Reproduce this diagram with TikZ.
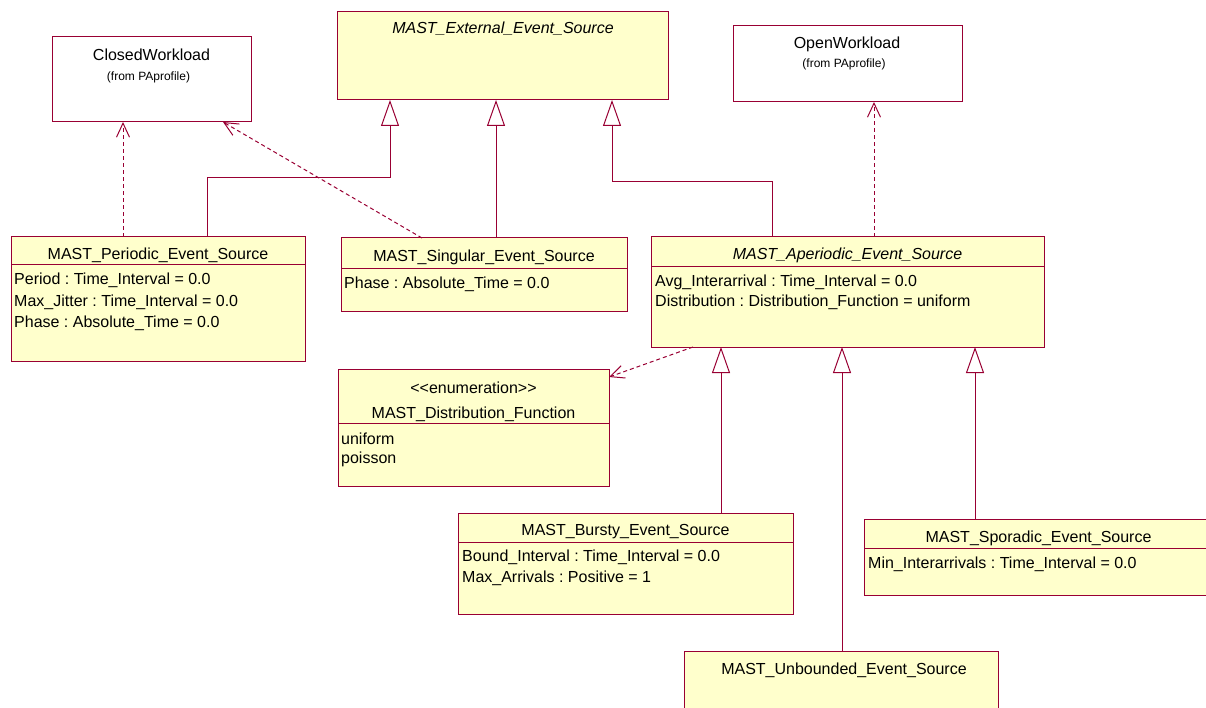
\documentclass[tikz,border=0pt]{standalone}
\usepackage{fontspec}
\setmainfont{Liberation Sans}
\usetikzlibrary{arrows.meta,calc}
\frenchspacing
\definecolor{umlline}{RGB}{153,0,51}
\definecolor{umlfill}{RGB}{255,255,204}
\tikzset{
  cls/.style={draw=umlline, fill=umlfill, line width=1pt, inner sep=0pt, outer sep=0pt, anchor=north west},
  ext/.style={cls, fill=white},
  sep/.style={draw=umlline, line width=1pt},
  ttl/.style={inner sep=0pt, anchor=base, font=\fontsize{16}{19}\selectfont},
  att/.style={inner sep=0pt, anchor=base west, font=\fontsize{16}{19}\selectfont},
  sml/.style={inner sep=0pt, anchor=base, font=\fontsize{12}{14}\selectfont},
  gen/.style={draw=umlline, line width=1pt, -{Triangle[length=26pt,width=18pt,fill=white]}},
  dep/.style={draw=umlline, line width=1pt, dash pattern=on 4pt off 3pt, -{Straight Barb[length=14pt,width=13pt]}},
}
\begin{document}
\begin{tikzpicture}[x=1pt,y=-1pt]
\useasboundingbox (0,0) rectangle (1206,708);
\clip (0,0) rectangle (1206,708);

% packages imported from PAprofile
\node[ext, minimum width=199pt, minimum height=85pt] (closed) at (52,37) {};
\node[ttl] (closedT) at (151.5,61) {ClosedWorkload};
\node[sml] (closedF) at (148.5,81) {(from PAprofile)};

\node[ext, minimum width=229pt, minimum height=76pt] (open) at (733,26) {};
\node[ttl] (openT) at (847,49) {OpenWorkload};
\node[sml] (openF) at (844,67.5) {(from PAprofile)};

% abstract root
\node[cls, minimum width=331pt, minimum height=88pt] (external) at (337,12) {};
\node[ttl, font=\fontsize{16}{19}\selectfont\itshape] (externalT) at (503,34) {MAST\_External\_Event\_Source};

% periodic
\node[cls, minimum width=294pt, minimum height=124pt] (periodic) at (11,237) {};
\draw[sep] ([yshift=-28pt]periodic.north west) -- ([yshift=-28pt]periodic.north east);
\node[ttl] (periodicT) at (158,260) {MAST\_Periodic\_Event\_Source};
\node[att] (periodicA1) at (14,284.5) {Period : Time\_Interval = 0.0};
\node[att] (periodicA2) at (14,306) {Max\_Jitter : Time\_Interval = 0.0};
\node[att] (periodicA3) at (14,327.5) {Phase : Absolute\_Time = 0.0};

% singular
\node[cls, minimum width=286pt, minimum height=73pt] (singular) at (341,238) {};
\draw[sep] ([yshift=-31pt]singular.north west) -- ([yshift=-31pt]singular.north east);
\node[ttl] (singularT) at (484,262) {MAST\_Singular\_Event\_Source};
\node[att] (singularA1) at (344,288) {Phase : Absolute\_Time = 0.0};

% aperiodic
\node[cls, minimum width=393pt, minimum height=110pt] (aperiodic) at (651,237) {};
\draw[sep] ([yshift=-30pt]aperiodic.north west) -- ([yshift=-30pt]aperiodic.north east);
\node[ttl, font=\fontsize{16}{19}\selectfont\itshape] (aperiodicT) at (847.5,260) {MAST\_Aperiodic\_Event\_Source};
\node[att] (aperiodicA1) at (655,287) {Avg\_Interarrival : Time\_Interval = 0.0};
\node[att] (aperiodicA2) at (655,306.5) {Distribution : Distribution\_Function = uniform};

% enumeration
\node[cls, minimum width=271pt, minimum height=117pt] (enum) at (338,369) {};
\draw[sep] ([yshift=-54pt]enum.north west) -- ([yshift=-54pt]enum.north east);
\node[ttl] (enumS) at (473.5,393) {<{}<enumeration>{}>};
\node[ttl] (enumT) at (473.5,418) {MAST\_Distribution\_Function};
\node[att] (enumA1) at (341,444.5) {uniform};
\node[att] (enumA2) at (341,463) {poisson};

% bursty
\node[cls, minimum width=335pt, minimum height=101pt] (bursty) at (458,513) {};
\draw[sep] ([yshift=-29pt]bursty.north west) -- ([yshift=-29pt]bursty.north east);
\node[ttl] (burstyT) at (625.5,535) {MAST\_Bursty\_Event\_Source};
\node[att] (burstyA1) at (462,561) {Bound\_Interval : Time\_Interval = 0.0};
\node[att] (burstyA2) at (462,582.5) {Max\_Arrivals : Positive = 1};

% sporadic
\node[cls, minimum width=349pt, minimum height=76pt] (sporadic) at (864,519) {};
\draw[sep] ([yshift=-29pt]sporadic.north west) -- ([yshift=-29pt]sporadic.north east);
\node[ttl] (sporadicT) at (1038.5,542) {MAST\_Sporadic\_Event\_Source};
\node[att] (sporadicA1) at (868,568) {Min\_Interarrivals : Time\_Interval = 0.0};

% unbounded
\node[cls, minimum width=314pt, minimum height=80pt] (unbounded) at (684,651) {};
\node[ttl] (unboundedT) at (844,674) {MAST\_Unbounded\_Event\_Source};

% generalizations
\draw[gen] ([xshift=196pt]periodic.north west) |- ([xshift=53pt,yshift=-78pt]external.south west) -- ([xshift=53pt]external.south west);
\draw[gen] ([xshift=155pt]singular.north west) -- ([xshift=159pt]external.south west);
\draw[gen] ([xshift=121pt]aperiodic.north west) |- ([xshift=275pt,yshift=-82pt]external.south west) -- ([xshift=275pt]external.south west);
\draw[gen] ([xshift=263pt]bursty.north west) -- ([xshift=70pt]aperiodic.south west);
\draw[gen] ([xshift=158pt]unbounded.north west) -- ([xshift=191pt]aperiodic.south west);
\draw[gen] ([xshift=111pt]sporadic.north west) -- ([xshift=324pt]aperiodic.south west);

% dependencies
\draw[dep] ([xshift=112pt]periodic.north west) -- ([xshift=71pt]closed.south west);
\draw[dep] ([xshift=81pt]singular.north west) -- ([xshift=171pt]closed.south west);
\draw[dep] ([xshift=223pt]aperiodic.north west) -- ([xshift=141pt]open.south west);
\draw[dep] ([xshift=42pt]aperiodic.south west) -- ([yshift=-8pt]enum.north east);
\end{tikzpicture}
\end{document}
